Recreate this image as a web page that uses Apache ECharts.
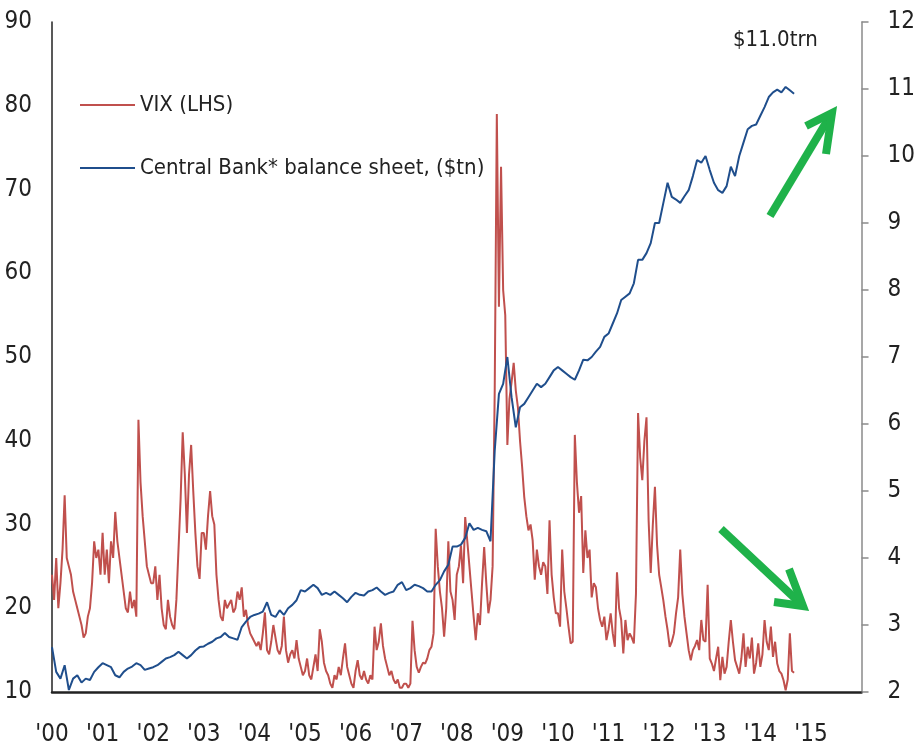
<!DOCTYPE html>
<html>
<head>
    <meta charset="utf-8">
    <script src="https://cdn.jsdelivr.net/npm/echarts@6/dist/echarts.min.js"></script>
    <style>
        html, body { margin: 0; padding: 0; background: #fff; }
        #main { width: 918px; height: 753px; }
    </style>
</head>
<body>
<div id="main"></div>
<script type="text/javascript">
    var FONT = "'Liberation Sans Narrow', 'DejaVu Sans Condensed', 'Liberation Sans', sans-serif";

    // VIX, two readings per month from Jan 2000
    var vixStart = 2000;
    var vixStep = 1 / 24;
    var vix2000 = [24, 21, 26, 20, 23, 27, 33.5, 26, 25, 24, 22, 21, 20, 19, 18, 16.5, 17, 19, 20, 23, 28, 26, 27, 24];
    var vix2001 = [29, 24, 27, 23, 28, 26, 31.5, 28, 26, 24, 22, 20, 19.5, 22, 20, 21, 19, 42.5, 35, 31, 28, 25, 24, 23];
    var vix2002 = [23, 25, 21, 24, 20, 18, 17.5, 21, 19, 18, 17.5, 21, 27, 33, 41, 36, 29, 36, 39.5, 34, 29, 25, 23.5, 29];
    var vix2003 = [29, 27, 31, 34, 31, 30, 24, 21, 19, 18.5, 21, 20, 20.5, 21, 19.5, 20, 22, 21, 22.5, 19, 19.8, 18, 17, 16.5];
    var vix2004 = [16, 15.5, 16, 15, 17, 19.5, 15, 14.5, 16, 18, 16.5, 15, 14.5, 15.5, 19, 15, 13.5, 14.5, 15, 14, 16.2, 14, 13, 12];
    var vix2005 = [12.5, 14, 12, 11.5, 13, 14.5, 12.5, 17.5, 16, 13.5, 12.5, 12, 11, 10.5, 12, 11.5, 13, 12, 14, 15.8, 13, 12, 11, 10.5];
    var vix2006 = [12.5, 13.8, 12, 11.5, 12.5, 11.5, 11, 12, 11.5, 17.8, 15, 16, 18.2, 15.5, 14, 13, 12, 12.5, 11.5, 11, 11.5, 10.5, 10.5, 11];
    var vix2007 = [11, 10.5, 11, 18.5, 15, 13, 12.3, 13, 13.5, 13.4, 14, 15, 15.4, 17, 29.5, 25, 22, 20, 16.6, 20, 28, 22, 21, 18.6];
    var vix2008 = [24, 25, 27.5, 23, 30.9, 28, 25, 22, 19, 16.2, 19.4, 18, 23, 27.3, 23, 19.4, 21, 25, 46, 79, 56, 72.7, 58, 55];
    var vix2009 = [39.5, 45, 47, 49.3, 46, 44, 40, 36.9, 33.3, 31, 29.3, 30, 28.1, 23.4, 27, 25, 24, 25.5, 25, 21.7, 30.5, 24, 21.3, 19.4];
    var vix2010 = [19.4, 17.8, 27, 22, 20, 17.8, 15.8, 16, 40.7, 35, 31.4, 33.4, 24.2, 29.3, 26, 27, 21.3, 23, 22.5, 20, 18.6, 17.8, 19, 16.2];
    var vix2011 = [17.5, 19.4, 17, 15.4, 24.3, 20, 18.6, 14.6, 18.6, 16.2, 17, 16.5, 15.8, 21.7, 43.3, 38, 35.3, 40, 42.8, 30.5, 24.2, 30, 34.5, 27.6];
    var vix2012 = [24, 22.5, 20.9, 19, 17.4, 15.4, 16, 17, 19.4, 21.3, 27, 21.7, 19, 17, 15, 13.8, 15, 15.5, 16.2, 15, 18.6, 16.2, 16, 22.8];
    var vix2013 = [14, 13.4, 12.5, 14, 15.4, 11.4, 14.2, 12.2, 13, 16, 18.6, 16, 13.8, 13, 12.2, 14, 17, 13, 15.4, 14, 16.5, 12.2, 13.5, 15.8];
    var vix2014 = [13, 14.5, 18.6, 16, 15, 17.8, 14.2, 16, 13.4, 12.5, 12.2, 11.4, 10.2, 11.5, 17, 12.5, 12.3];

    // Central bank balance sheet ($tn), monthly from Jan 2000
    var bsStart = 2000;
    var bsStep = 1 / 12;
    var bs2000 = [2.67, 2.3, 2.2, 2.4, 2.03, 2.2, 2.25, 2.14, 2.2, 2.18, 2.3, 2.37];
    var bs2001 = [2.43, 2.4, 2.37, 2.25, 2.22, 2.3, 2.35, 2.38, 2.43, 2.4, 2.33, 2.35];
    var bs2002 = [2.37, 2.4, 2.45, 2.5, 2.52, 2.55, 2.6, 2.55, 2.5, 2.55, 2.62, 2.67];
    var bs2003 = [2.68, 2.72, 2.75, 2.8, 2.82, 2.88, 2.82, 2.8, 2.78, 2.97, 3.05, 3.12];
    var bs2004 = [3.15, 3.17, 3.2, 3.34, 3.15, 3.12, 3.22, 3.15, 3.25, 3.3, 3.37, 3.52];
    var bs2005 = [3.5, 3.55, 3.6, 3.55, 3.45, 3.48, 3.45, 3.5, 3.45, 3.4, 3.34, 3.42];
    var bs2006 = [3.48, 3.45, 3.44, 3.5, 3.52, 3.56, 3.5, 3.45, 3.48, 3.5, 3.6, 3.64];
    var bs2007 = [3.52, 3.55, 3.6, 3.58, 3.55, 3.5, 3.5, 3.6, 3.67, 3.8, 3.9, 4.17];
    var bs2008 = [4.17, 4.2, 4.3, 4.52, 4.42, 4.45, 4.42, 4.4, 4.25, 5.6, 6.45, 6.6];
    var bs2009 = [7.0, 6.4, 5.95, 6.25, 6.3, 6.4, 6.5, 6.6, 6.55, 6.6, 6.7, 6.8];
    var bs2010 = [6.85, 6.8, 6.75, 6.7, 6.66, 6.8, 6.96, 6.95, 7.0, 7.08, 7.15, 7.3];
    var bs2011 = [7.35, 7.5, 7.65, 7.85, 7.9, 7.95, 8.1, 8.45, 8.45, 8.55, 8.7, 9.0];
    var bs2012 = [9.0, 9.3, 9.6, 9.39, 9.35, 9.3, 9.4, 9.49, 9.7, 9.94, 9.9, 10.0];
    var bs2013 = [9.79, 9.6, 9.49, 9.45, 9.55, 9.84, 9.7, 10.0, 10.2, 10.4, 10.45, 10.47];
    var bs2014 = [10.6, 10.73, 10.88, 10.95, 10.99, 10.95, 11.03, 10.98, 10.93];

    var vixValues = [].concat(vix2000, vix2001, vix2002, vix2003, vix2004, vix2005, vix2006, vix2007,
        vix2008, vix2009, vix2010, vix2011, vix2012, vix2013, vix2014);
    var bsValues = [].concat(bs2000, bs2001, bs2002, bs2003, bs2004, bs2005, bs2006, bs2007,
        bs2008, bs2009, bs2010, bs2011, bs2012, bs2013, bs2014);

    function toPairs(start, step, values) {
        var out = [];
        for (var i = 0; i < values.length; i++) {
            out.push([start + i * step, values[i]]);
        }
        return out;
    }

    var myChart = echarts.init(document.getElementById('main'));

    var option = {
        animation: false,
        backgroundColor: '#fff',
        textStyle: { fontFamily: FONT },
        grid: { left: 52, right: 53, top: 22, bottom: 61 },
        legend: {
            orient: 'vertical',
            left: 75,
            top: 89,
            itemWidth: 55,
            itemHeight: 2,
            itemGap: 41,
            icon: 'rect',
            textStyle: { fontFamily: FONT, fontSize: 22, color: '#222' },
            data: ['VIX (LHS)', 'Central Bank* balance sheet, ($tn)']
        },
        xAxis: {
            type: 'value',
            min: 2000,
            max: 2016,
            interval: 1,
            axisLine: { show: true, lineStyle: { color: '#222', width: 2.5 } },
            axisTick: { show: false },
            splitLine: { show: false },
            axisLabel: {
                margin: 31,
                fontSize: 24,
                color: '#222',
                fontFamily: FONT,
                formatter: function (v) {
                    if (v > 2015) return '';
                    return "'" + String(v).slice(2);
                }
            }
        },
        yAxis: [
            {
                type: 'value',
                min: 10,
                max: 90,
                interval: 10,
                position: 'left',
                axisLine: { show: true, lineStyle: { color: '#222', width: 1.5 } },
                axisTick: { show: false },
                splitLine: { show: false },
                axisLabel: { margin: 20, fontSize: 24, color: '#222', fontFamily: FONT }
            },
            {
                type: 'value',
                min: 2,
                max: 12,
                interval: 1,
                position: 'right',
                axisLine: { show: true, lineStyle: { color: '#8a8a8a', width: 1.5 } },
                axisTick: { show: true, length: 7, lineStyle: { color: '#8a8a8a', width: 1.5 } },
                splitLine: { show: false },
                axisLabel: { margin: 26, fontSize: 24, color: '#222', fontFamily: FONT }
            }
        ],
        series: [
            {
                name: 'VIX (LHS)',
                type: 'line',
                yAxisIndex: 0,
                showSymbol: false,
                color: '#c0504d',
                lineStyle: { width: 2, color: '#c0504d' },
                data: toPairs(vixStart, vixStep, vixValues)
            },
            {
                name: 'Central Bank* balance sheet, ($tn)',
                type: 'line',
                yAxisIndex: 1,
                showSymbol: false,
                color: '#1f4e8c',
                lineStyle: { width: 2, color: '#1f4e8c' },
                data: toPairs(bsStart, bsStep, bsValues)
            }
        ],
        graphic: [
            {
                type: 'text',
                left: 733,
                top: 29,
                style: { text: '$11.0trn', fontSize: 22, fontFamily: FONT, fill: '#222' }
            },
            // green arrows
            {
                type: 'polyline',
                shape: { points: [[770, 216], [830, 116]] },
                style: { stroke: '#1fb24a', lineWidth: 8, lineCap: 'butt', fill: null }
            },
            {
                type: 'polyline',
                shape: { points: [[806, 126], [832, 113], [826, 154]] },
                style: { stroke: '#1fb24a', lineWidth: 8, lineJoin: 'miter', fill: null }
            },
            {
                type: 'polyline',
                shape: { points: [[721, 529], [800, 603]] },
                style: { stroke: '#1fb24a', lineWidth: 8, lineCap: 'butt', fill: null }
            },
            {
                type: 'polyline',
                shape: { points: [[774, 602], [803, 606], [789, 569]] },
                style: { stroke: '#1fb24a', lineWidth: 8, lineJoin: 'miter', fill: null }
            }
        ]
    };

    myChart.setOption(option);
</script>
</body>
</html>
